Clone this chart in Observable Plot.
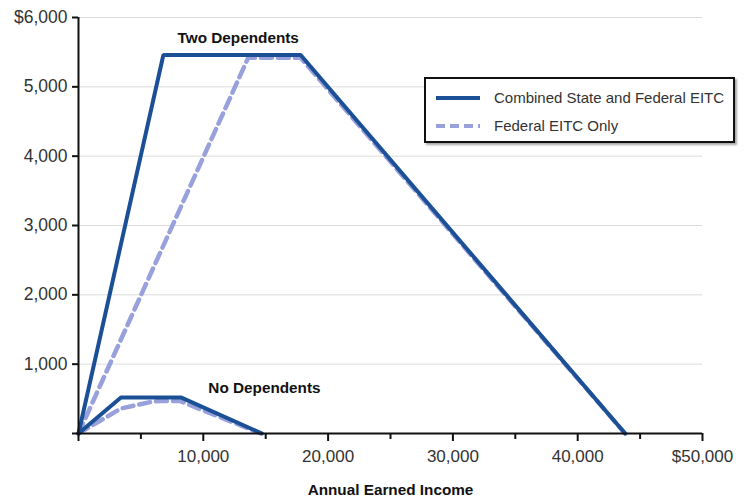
<!DOCTYPE html>
<html>
<head>
<meta charset="utf-8">
<script src="https://cdn.jsdelivr.net/npm/d3@7"></script>
<script src="https://cdn.jsdelivr.net/npm/@observablehq/plot@0.6"></script>
<style>
  html, body { margin: 0; padding: 0; background: #fff; }
  #wrap { position: relative; width: 749px; height: 497px; font-family: "Liberation Sans", Arial, sans-serif; }
  #legend { position: absolute; left: 424px; top: 77px; width: 307px; height: 62px; border: 2px solid #111;
    box-shadow: 2px 2px 2px rgba(0,0,0,0.35); background: #fff; box-sizing: content-box; }
  .row { position: absolute; left: 10px; display: flex; align-items: center; font-size: 15px; color: #333; white-space: nowrap; }
  .row svg { margin-right: 14px; }
</style>
</head>
<body>
<div id="wrap"></div>
<script>
// Data
const seriesNames = ["Combined State and Federal EITC", "Federal EITC Only"];
const twoDepCombinedX = [0, 6800, 17800, 43800];
const twoDepCombinedY = [0, 5460, 5460, 0];
const twoDepFederalX = [0, 13600, 17800, 43800];
const twoDepFederalY = [0, 5420, 5420, 0];
const noDepCombinedX = [0, 3400, 8200, 14700];
const noDepCombinedY = [0, 520, 520, 0];
const noDepFederalX = [0, 3400, 5800, 6500, 8100, 14600];
const noDepFederalY = [0, 360, 455, 470, 470, 0];
const yTicks = [0, 1000, 2000, 3000, 4000, 5000, 6000];
const xMajorTicks = [0, 10000, 20000, 30000, 40000, 50000];
const xMinorTicks = [5000, 15000, 25000, 35000, 45000];
const annotations = [
  {x: 12800, y: 5700, text: "Two Dependents"},
  {x: 14900, y: 655, text: "No Dependents"}
];

const solidColor = "#1c5096";
const dashColor = "#98a1dc";

function pts(xs, ys, group) { return xs.map((x, i) => ({x, y: ys[i], group})); }
const solidData = [...pts(twoDepCombinedX, twoDepCombinedY, "two"), ...pts(noDepCombinedX, noDepCombinedY, "none")];
const dashData = [...pts(twoDepFederalX, twoDepFederalY, "two"), ...pts(noDepFederalX, noDepFederalY, "none")];

const fmt = d3.format(",");
const chart = Plot.plot({
  width: 749,
  height: 497,
  marginLeft: 78,
  marginRight: 47,
  marginTop: 17,
  marginBottom: 64,
  style: {fontFamily: "Liberation Sans, Arial, sans-serif", background: "#fff"},
  x: {domain: [0, 50000]},
  y: {domain: [0, 6000]},
  marks: [
    Plot.gridY(yTicks.filter(d => d > 0), {stroke: "#dcdcdc", strokeOpacity: 1, strokeWidth: 1}),
    Plot.line(dashData, {x: "x", y: "y", z: "group", stroke: dashColor, strokeWidth: 4.5, strokeDasharray: "11,6", strokeLinejoin: "miter"}),
    Plot.line(solidData, {x: "x", y: "y", z: "group", stroke: solidColor, strokeWidth: 4, strokeLinejoin: "miter"}),
    Plot.ruleX([0], {stroke: "#111", strokeWidth: 2}),
    Plot.ruleY([0], {stroke: "#111", strokeWidth: 2}),
    Plot.axisY({ticks: yTicks, tickSize: 6, tickPadding: 5, stroke: "#111", strokeWidth: 2, fontSize: 17.5, fill: "#333",
      tickFormat: d => d === 0 ? "" : (d === 6000 ? "$" + fmt(d) : fmt(d)), label: null}),
    Plot.axisX({ticks: xMajorTicks, tickSize: 8, tickPadding: 8, stroke: "#111", strokeWidth: 2, fontSize: 17, fill: "#333",
      tickFormat: d => d === 0 ? "" : (d === 50000 ? "$" + fmt(d) : fmt(d)), label: null}),
    Plot.axisX({ticks: xMinorTicks, tickSize: 6, stroke: "#111", strokeWidth: 2, tickFormat: () => "", label: null}),
    Plot.text(annotations, {x: "x", y: "y", text: "text", fontWeight: "bold", fontSize: 15.3, fill: "#111"}),
    Plot.text(["Annual Earned Income"], {frameAnchor: "bottom", dy: 61, fontWeight: "bold", fontSize: 15.3, fill: "#111"})
  ]
});
const wrap = document.getElementById("wrap");
wrap.appendChild(chart);

const legend = document.createElement("div");
legend.id = "legend";
const styles = [{color: solidColor, dash: null, w: 4}, {color: dashColor, dash: "9,5", w: 4}];
seriesNames.forEach((name, i) => {
  const row = document.createElement("div");
  row.className = "row";
  row.style.top = (i === 0 ? 10 : 38) + "px";
  const s = styles[i];
  row.innerHTML = `<svg width="44" height="10"><line x1="0" x2="44" y1="5" y2="5" stroke="${s.color}" stroke-width="${s.w}" ${s.dash ? `stroke-dasharray="${s.dash}"` : ""}/></svg><span>${name}</span>`;
  legend.appendChild(row);
});
wrap.appendChild(legend);
</script>
</body>
</html>
